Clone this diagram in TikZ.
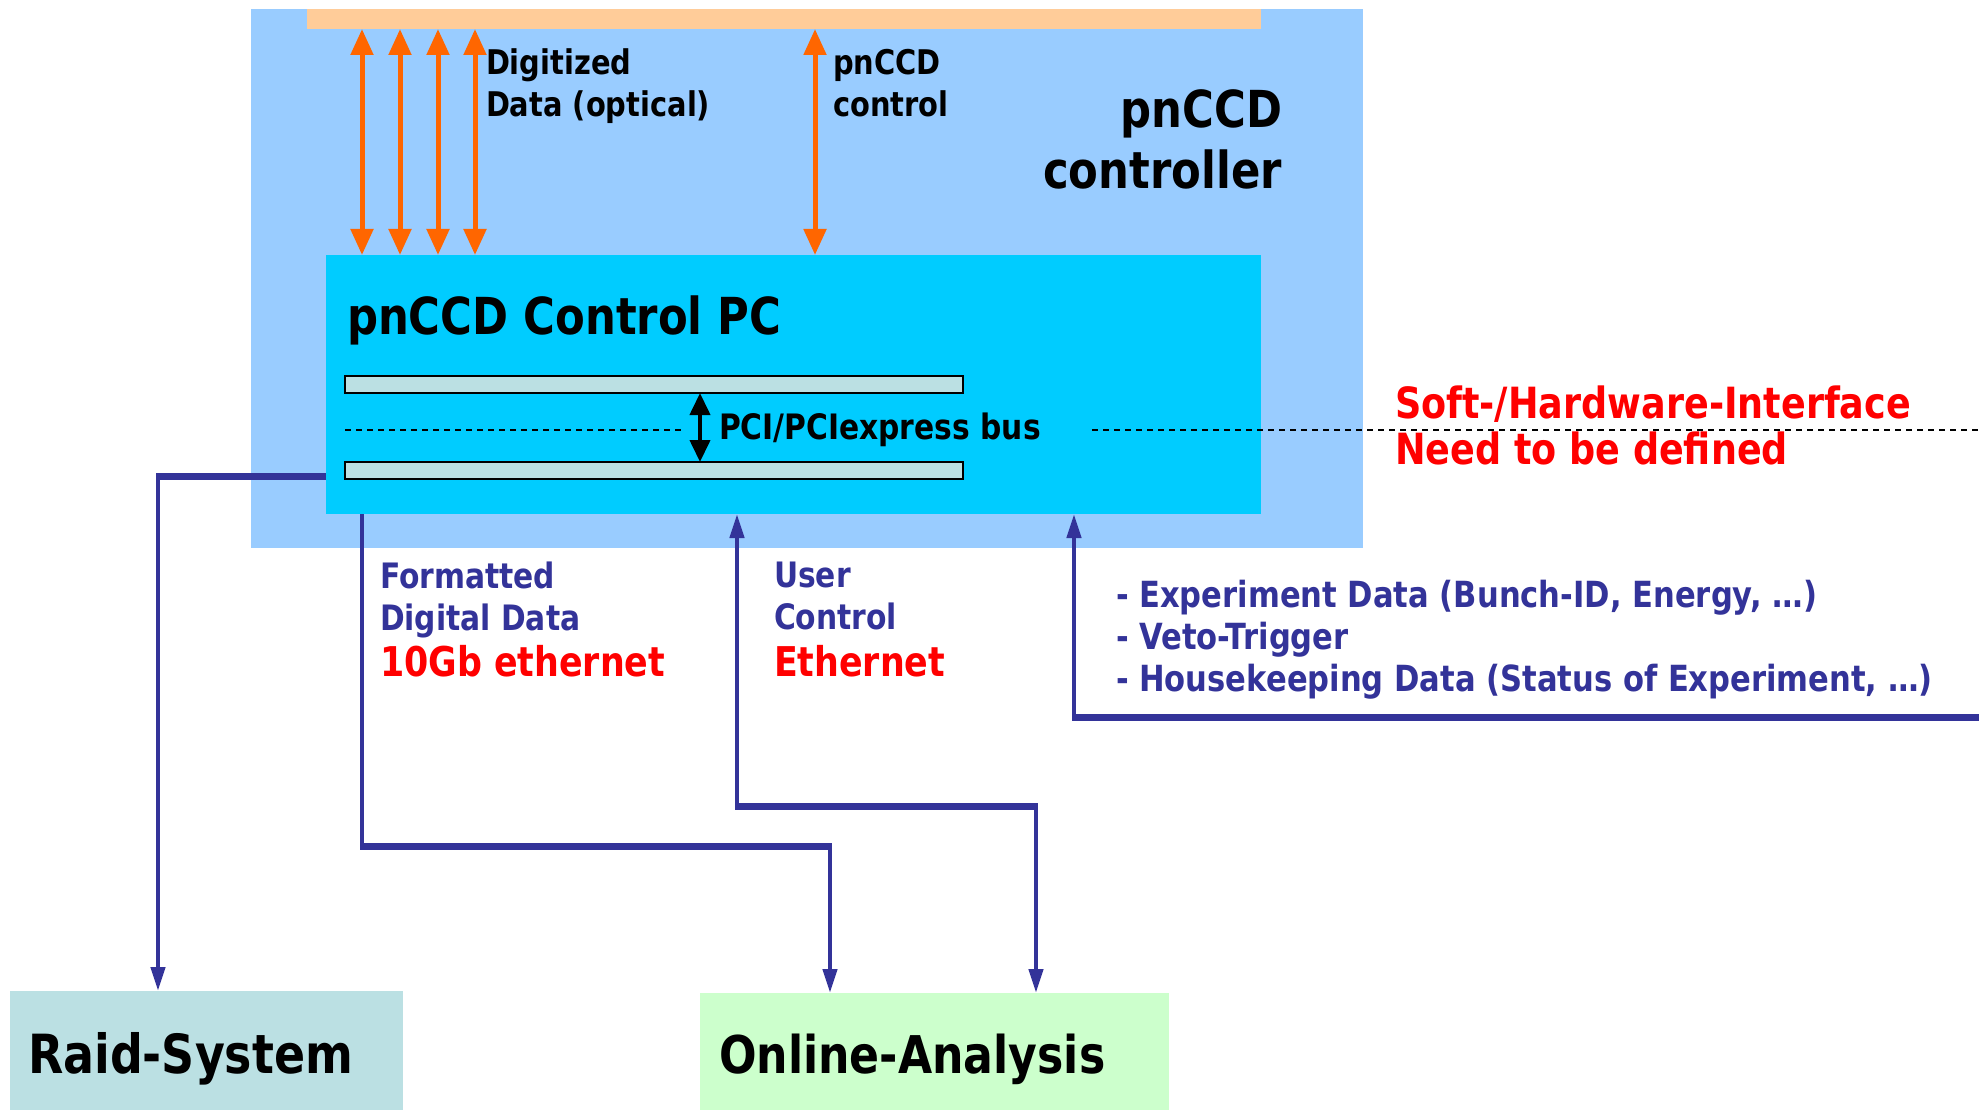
\documentclass[tikz,border=0pt]{standalone}
\usepackage{fontspec}
\setmainfont{DejaVu Sans}[FakeStretch=0.85]
\usetikzlibrary{arrows.meta}
\definecolor{ctrlblue}{HTML}{99CCFF}
\definecolor{pccyan}{HTML}{00CCFF}
\definecolor{detorange}{HTML}{FFCC99}
\definecolor{arrorange}{HTML}{FF6600}
\definecolor{busfill}{HTML}{BBE0E3}
\definecolor{lineblue}{HTML}{333399}
\definecolor{onlinefill}{HTML}{CCFFCC}
\definecolor{alertred}{HTML}{FF0000}
\newcommand{\fsz}[2]{\fontsize{#1pt}{#2pt}\selectfont\bfseries}
\begin{document}
\begin{tikzpicture}[x=1pt,y=-1pt,
  box/.style={draw=none,inner sep=0pt,outer sep=0pt,anchor=north west},
  busbar/.style={box,draw=black,line width=2pt,fill=busfill},
  lbl/.style={inner sep=0pt,outer sep=0pt,align=left},
  oarrow/.style={draw=arrorange,line width=5pt,
    {Triangle[length=26pt,width=22pt]}-{Triangle[length=26pt,width=22pt]}},
  barrow/.style={draw=black,line width=4pt,
    {Triangle[length=22pt,width=20pt]}-{Triangle[length=22pt,width=20pt]}},
  bthin/.style={draw=lineblue,line width=4.5pt},
  bthick/.style={draw=lineblue,line width=7pt},
  btip/.style={-{Triangle[length=24pt,width=14pt]}},
  sepline/.style={draw=black,line width=1.2pt,dash pattern=on 6pt off 5pt}]
\useasboundingbox (0,0) rectangle (1979,1110);

% controller housing, detector strip and control PC
\node[box,fill=ctrlblue,minimum width=1112pt,minimum height=539pt] (ctrl) at (251,9) {};
\node[box,fill=detorange,minimum width=954pt,minimum height=20pt] (det) at (307,9) {};
\node[box,fill=pccyan,minimum width=935pt,minimum height=259pt] (pc) at (326,255) {};
\node[busbar,minimum width=618pt,minimum height=17pt] (busA) at (345,376) {};
\node[busbar,minimum width=618pt,minimum height=17pt] (busB) at (345,462) {};

% target systems
\node[box,fill=busfill,minimum width=393pt,minimum height=119pt] (raid) at (10,991) {};
\node[box,fill=onlinefill,minimum width=469pt,minimum height=117pt] (online) at (700,993) {};

% optical data links and detector control
\foreach \x [count=\i] in {362,400,438,475}{
  \coordinate (d\i) at (\x,0);
  \draw[oarrow] (d\i |- det.south) -- (d\i |- pc.north);
}
\coordinate (dc) at (815,0);
\draw[oarrow] (dc |- det.south) -- (dc |- pc.north);

% PCI bus
\coordinate (bx) at (700,0);
\draw[barrow] (bx |- busA.south) -- (bx |- busB.north);
\draw[sepline] (345,430) -- (682,430);
\draw[sepline] (1092,430) -- (1979,430);

% network connections
\coordinate (rk) at (158,476);
\draw[bthick] (pc.west |- rk) -- ([xshift=-2pt]rk);
\draw[bthin,btip] ([yshift=-2pt]rk) -- (rk |- raid.north);

\coordinate (fk1) at (362,846);
\coordinate (fk2) at (830,846);
\draw[bthin] (pc.south -| fk1) -- (fk1);
\draw[bthick] ([xshift=-2pt]fk1) -- ([xshift=2pt]fk2);
\draw[bthin,btip] (fk2) -- (fk2 |- online.north);

\coordinate (uk1) at (737,806);
\coordinate (uk2) at (1036,806);
\draw[bthin,btip] (uk1) -- (uk1 |- pc.south);
\draw[bthick] ([xshift=-2pt]uk1) -- ([xshift=2pt]uk2);
\draw[bthin,btip] (uk2) -- (uk2 |- online.north);

\coordinate (ek) at (1074,717);
\coordinate (eend) at (1979,717);
\draw[bthick] (eend) -- ([xshift=-2pt]ek);
\draw[bthin,btip] (ek) -- (ek |- pc.south);

% labels
\node[lbl,font=\fsz{34}{42},anchor=north west] (tdigi) at (486,49) {Digitized\\Data (optical)};
\node[lbl,font=\fsz{34}{42},anchor=north west] (tctl) at (833,49) {pnCCD\\control};
\node[lbl,font=\fsz{51}{61},align=right,anchor=north east] (tcontroller) at (1282,90) {pnCCD\\controller};
\node[lbl,font=\fsz{51}{61},anchor=base west] (tpc) at (347,334) {pnCCD Control PC};
\node[lbl,font=\fsz{35}{42},anchor=base west] (tbus) at (719,439) {PCI/PCIexpress bus};
\node[lbl,font=\fsz{43}{46},text=alertred,anchor=base west] (tif) at (1395,418) {Soft-/Hardware-Interface};
\node[lbl,font=\fsz{43}{46},text=alertred,anchor=base west] (tdef) at (1395,464) {Need to be defined};
\node[lbl,font=\fsz{35}{42},text=lineblue,anchor=north west] (tfmt) at (380,562) {Formatted\\Digital Data};
\node[lbl,font=\fsz{41}{46},text=alertred,anchor=base west] (tfmtnet) at (380,676) {10Gb ethernet};
\node[lbl,font=\fsz{35}{42},text=lineblue,anchor=north west] (tuser) at (774,562) {User\\Control};
\node[lbl,font=\fsz{41}{46},text=alertred,anchor=base west] (tusernet) at (774,676) {Ethernet};
\node[lbl,font=\fsz{36}{42},text=lineblue,anchor=north west] (texp) at (1116,580)
  {- Experiment Data (Bunch-ID, Energy, …)\\- Veto-Trigger\\- Housekeeping Data (Status of Experiment, …)};
\node[lbl,font=\fsz{54}{60},anchor=base west] (traid) at (28,1073) {Raid-System};
\node[lbl,font=\fsz{52}{60},anchor=base west] (tonline) at (719,1073) {Online-Analysis};
\end{tikzpicture}
\end{document}
